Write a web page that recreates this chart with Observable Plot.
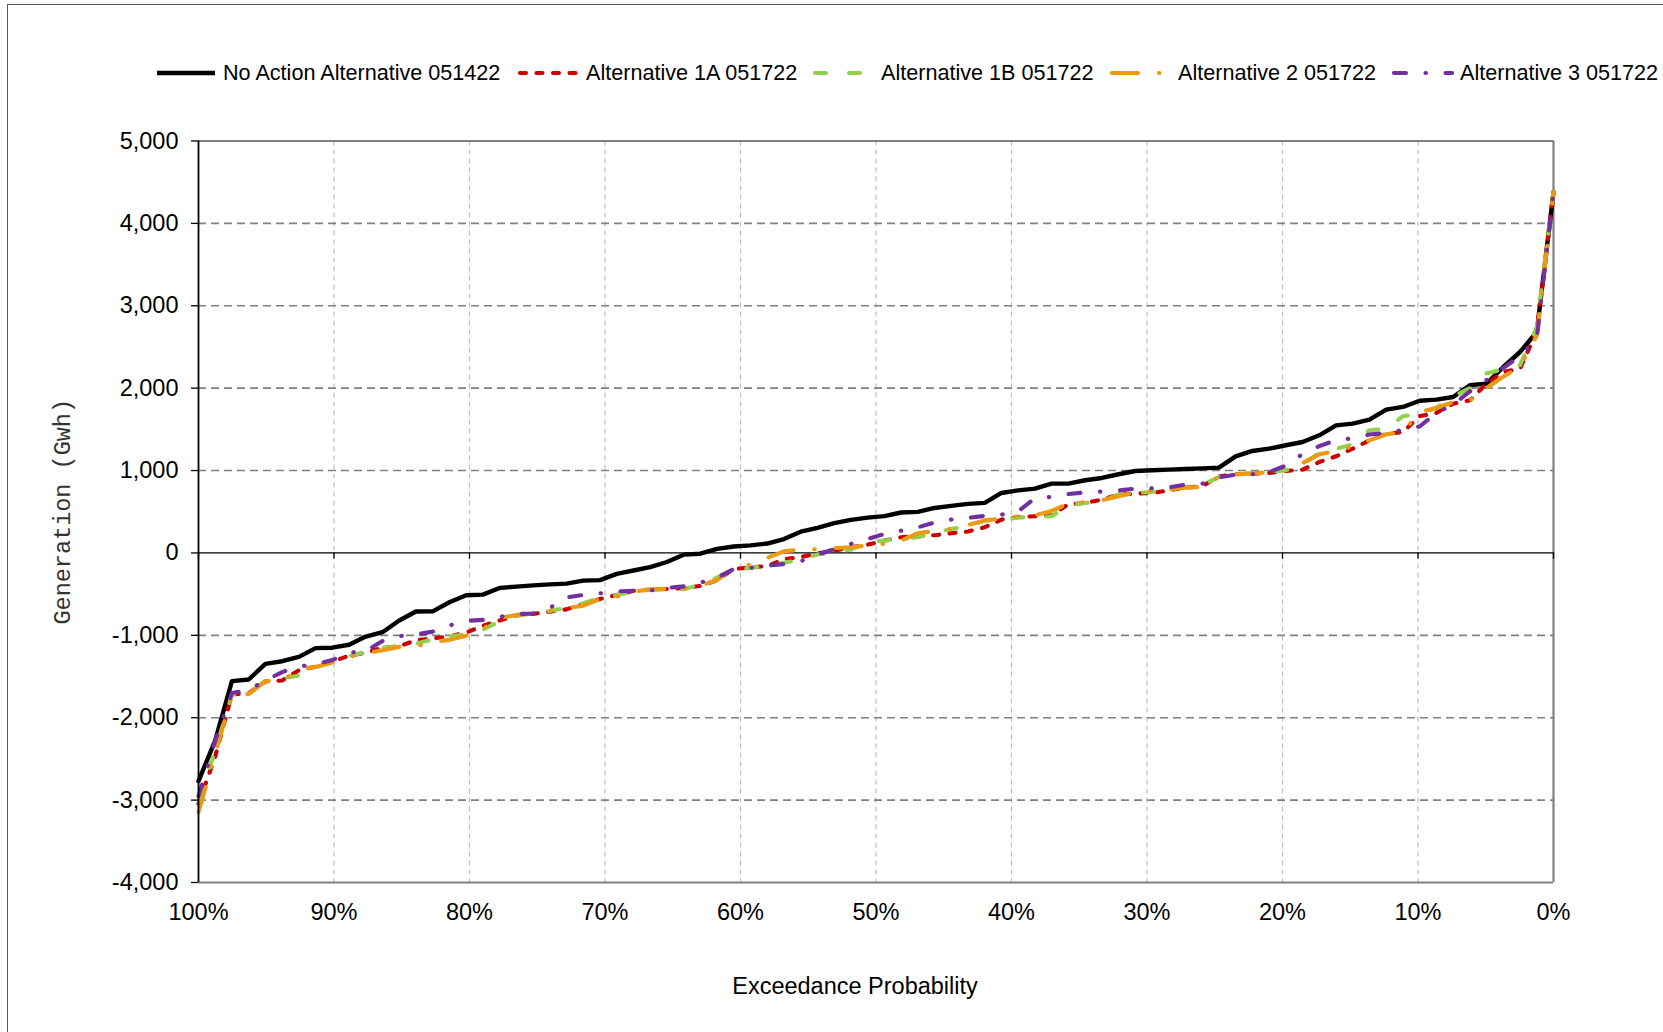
<!DOCTYPE html>
<html>
<head>
<meta charset="utf-8">
<script src="https://cdn.jsdelivr.net/npm/d3@7"></script>
<script src="https://cdn.jsdelivr.net/npm/@observablehq/plot@0.6"></script>
<style>
html, body { margin: 0; padding: 0; background: #fff; }
#wrap { position: relative; width: 1663px; height: 1032px; overflow: hidden; background: #fff;
        font-family: "Liberation Sans", Arial, sans-serif; color: #000; }
#frame { position: absolute; left: 7px; top: 4px; width: 1700px; height: 1100px;
         border: 1.3px solid #595959; box-sizing: border-box; pointer-events: none; }
#legend { position: absolute; left: 0; top: 0; width: 1663px; height: 100px; }
.item { position: absolute; top: 60px; height: 26px; display: flex; align-items: center;
        font-size: 21.6px; white-space: nowrap; }
.item svg { margin-right: 6px; }
#chart { position: absolute; left: 0; top: 100px; }
</style>
</head>
<body>
<div id="wrap">
  <div id="legend"></div>
  <div id="chart"></div>
  <div id="frame"></div>
</div>
<script>
// ---- Data (Generation, GWh) sorted by exceedance rank, 82 years ----
const seriesNames = [
  "No Action Alternative 051422",
  "Alternative 1A 051722",
  "Alternative 1B 051722",
  "Alternative 2 051722",
  "Alternative 3 051722"
];

const noAction = [
  -2770, -2275, -1556, -1536, -1346, -1314, -1262, -1155, -1150, -1114,
  -1015, -962, -820, -710, -709, -598, -514, -506, -425, -409,
  -393, -381, -372, -336, -330, -254, -213, -173, -110, -21,
  -9, 50, 78, 92, 114, 169, 258, 305, 361, 402,
  428, 447, 491, 499, 546, 572, 596, 608, 728, 760,
  781, 841, 841, 882, 910, 955, 995, 1003, 1011, 1019,
  1027, 1036, 1173, 1238, 1266, 1307, 1347, 1428, 1549, 1569,
  1618, 1739, 1772, 1848, 1861, 1893, 2035, 2055, 2257, 2439,
  2682, 4380
];

const alt1A = [
  -3045, -2470, -1715, -1704, -1560, -1548, -1424, -1380, -1320, -1247,
  -1210, -1150, -1132, -1060, -1037, -1012, -968, -885, -820, -760,
  -740, -712, -685, -619, -559, -510, -460, -447, -438, -425,
  -400, -330, -195, -175, -160, -75, -50, -5, 25, 69,
  100, 150, 190, 205, 215, 240, 260, 312, 405, 437,
  445, 457, 590, 607, 647, 708, 720, 728, 760, 793,
  809, 930, 955, 963, 971, 995, 1011, 1104, 1173, 1266,
  1367, 1448, 1468, 1660, 1700, 1812, 1853, 2055, 2196, 2237,
  2690, 4380
];

const alt1B = [
  -3000, -2400, -1720, -1700, -1555, -1520, -1490, -1390, -1325, -1250,
  -1205, -1150, -1135, -1100, -1050, -1010, -990, -930, -830, -758,
  -740, -705, -665, -610, -545, -510, -470, -450, -445, -440,
  -385, -300, -195, -185, -150, -120, -80, -20, 10, 40,
  130, 150, 170, 190, 240, 292, 320, 393, 396, 429,
  437, 445, 578, 607, 619, 712, 728, 740, 781, 801,
  821, 922, 955, 971, 979, 1003, 1070, 1214, 1266, 1319,
  1490, 1505, 1660, 1690, 1760, 1900, 2000, 2180, 2230, 2280,
  2740, 4380
];

const alt2 = [
  -3145, -2437, -1725, -1712, -1556, -1550, -1406, -1385, -1330, -1260,
  -1220, -1180, -1140, -1135, -1080, -1055, -1004, -920, -790, -752,
  -735, -700, -668, -640, -560, -530, -470, -440, -435, -435,
  -395, -330, -180, -140, -60, 20, 40, 45, 59, 70,
  90, 111, 150, 240, 265, 292, 340, 395, 417, 445,
  457, 510, 599, 619, 639, 688, 736, 752, 769, 793,
  801, 922, 955, 963, 983, 1052, 1092, 1197, 1238, 1294,
  1367, 1440, 1468, 1711, 1760, 1830, 1850, 2000, 2140, 2260,
  2640, 4380
];

const alt3 = [
  -2950, -2277, -1700, -1660, -1550, -1446, -1380, -1350, -1300, -1210,
  -1190, -1070, -1010, -990, -955, -880, -825, -812, -775, -742,
  -735, -668, -540, -510, -490, -466, -460, -455, -425, -406,
  -360, -300, -195, -180, -155, -135, -100, -20, 45, 110,
  170, 230, 270, 310, 370, 405, 425, 450, 465, 505,
  665, 680, 715, 735, 745, 758, 780, 785, 795, 830,
  840, 916, 950, 955, 981, 1060, 1200, 1296, 1370, 1390,
  1438, 1455, 1495, 1535, 1700, 1800, 1960, 2100, 2245, 2390,
  2600, 4380
];

// Exceedance probability (%) of each ranked year: 100% for the lowest rank down to 0%
const exceedance = noAction.map((_, i) => 100 - i * 100 / (noAction.length - 1));

const xTickValues = [100, 90, 80, 70, 60, 50, 40, 30, 20, 10, 0];
const yTickValues = [-4000, -3000, -2000, -1000, 0, 1000, 2000, 3000, 4000, 5000];

// ---- Styles ----
const styles = [
  {color: "#000000", width: 4.4, dash: null, cap: "round"},
  {color: "#CC0000", width: 4.1, dash: "6,10.5", cap: "round"},
  {color: "#92D050", width: 4.1, dash: "11,23", cap: "round"},
  {color: "#EB9A12", width: 4.1, dash: "26,21,0.5,21", cap: "round"},
  {color: "#7030A0", width: 4.1, dash: "12,19.5,0.5,19.5", cap: "round"}
];
const seriesValues = [noAction, alt1A, alt1B, alt2, alt3];

const table = seriesValues.flatMap((vals, s) =>
  vals.map((v, i) => ({series: seriesNames[s], p: exceedance[i], v})));

// ---- Legend ----
const legendTextX = [223, 586, 881, 1178, 1460];
const legend = document.getElementById("legend");
seriesNames.forEach((name, s) => {
  const st = styles[s];
  const div = document.createElement("div");
  div.className = "item";
  div.style.left = (legendTextX[s] - 68) + "px";
  const ns = "http://www.w3.org/2000/svg";
  const svg = document.createElementNS(ns, "svg");
  svg.setAttribute("width", 62); svg.setAttribute("height", 12);
  const ln = document.createElementNS(ns, "line");
  ln.setAttribute("x1", 2); ln.setAttribute("x2", 60);
  ln.setAttribute("y1", 6); ln.setAttribute("y2", 6);
  ln.setAttribute("stroke", st.color);
  ln.setAttribute("stroke-width", st.width);
  ln.setAttribute("stroke-linecap", st.dash ? "round" : "butt");
  if (st.dash) ln.setAttribute("stroke-dasharray", st.dash);
  svg.appendChild(ln);
  div.appendChild(svg);
  const span = document.createElement("span");
  span.textContent = name;
  div.appendChild(span);
  legend.appendChild(div);
});

// ---- Chart ----
const lineMarks = seriesNames.map((name, s) =>
  Plot.line(table.filter(d => d.series === name), {
    x: "p", y: "v",
    stroke: styles[s].color,
    strokeWidth: styles[s].width,
    strokeDasharray: styles[s].dash ?? undefined,
    strokeLinecap: styles[s].cap,
    strokeLinejoin: "round"
  }));

const chart = Plot.plot({
  width: 1663,
  height: 932,
  marginLeft: 198,
  marginRight: 110,
  marginTop: 40.5,
  marginBottom: 150,
  style: {fontFamily: "'Liberation Sans', Arial, sans-serif", fontSize: "23.5px", color: "#000", background: "transparent", overflow: "visible"},
  x: {domain: [100, 0]},
  y: {domain: [-4000, 5000]},
  marks: [
    Plot.ruleX(xTickValues.filter(v => v !== 100 && v !== 0), {stroke: "#bfbfbf", strokeWidth: 1.2, strokeDasharray: "5,4"}),
    Plot.ruleY(yTickValues.filter(v => v !== 0 && v !== 5000 && v !== -4000), {stroke: "#808080", strokeWidth: 1.6, strokeDasharray: "8,5"}),
    Plot.ruleY([5000, -4000], {stroke: "#808080", strokeWidth: 2}),
    Plot.ruleX([0], {stroke: "#808080", strokeWidth: 2.2}),
    Plot.ruleY([0], {stroke: "#000", strokeWidth: 1.3}),
    Plot.ruleX(xTickValues, {y1: 0, y2: -75, stroke: "#000", strokeWidth: 1.3}),
    ...lineMarks,
    Plot.ruleX([100], {stroke: "#000", strokeWidth: 1.8}),
    Plot.axisY({ticks: yTickValues, tickSize: 7, tickPadding: 13, tickFormat: d => d.toLocaleString("en-US"), label: null, strokeWidth: 1.3}),
    Plot.axisX({ticks: xTickValues, tickSize: 0, tickPadding: 21, tickFormat: d => d + "%", label: null}),
    Plot.text(["Exceedance Probability"], {frameAnchor: "bottom", dy: 104, dx: -21, fontSize: 23.5, lineAnchor: "middle"}),
    Plot.text(["Generation (Gwh)"], {frameAnchor: "left", textAnchor: "middle", lineAnchor: "middle", rotate: -90, dx: -136.5, fontFamily: "'Liberation Mono', 'Courier New', monospace", fontSize: 23.5, fill: "#333"})
  ]
});
document.getElementById("chart").appendChild(chart);
</script>
</body>
</html>
